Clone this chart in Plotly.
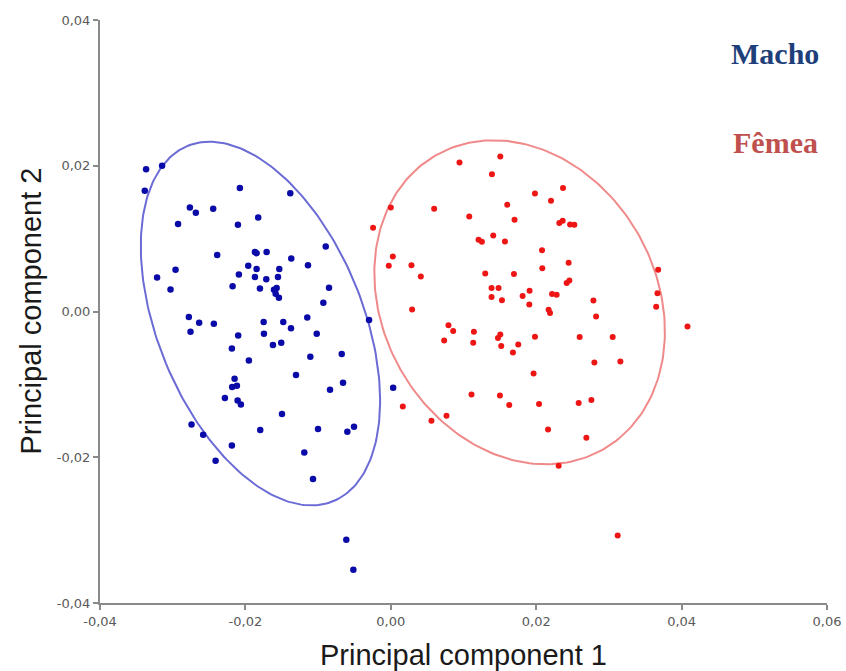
import numpy as np
import plotly.graph_objects as go

# ---- data (PC1, PC2) ----
macho_pc1 = [-0.03366, -0.03146, -0.03384, -0.02076, -0.01383, -0.02764, -0.02682, -0.02443, -0.02926, -0.02103,
             -0.01824, -0.00895, -0.02388, -0.01869, -0.01846, -0.01708, -0.01369, -0.01139, -0.01961, -0.01846,
             -0.01534, -0.02961, -0.03215, -0.02090, -0.01869, -0.01713, -0.01552, -0.00850, -0.03030, -0.02176,
             -0.01800, -0.01607, -0.01570, -0.01584, -0.01539, -0.00928, -0.00299, -0.02778, -0.02636, -0.02434,
             -0.01749, -0.01479, -0.01373, -0.01149, -0.02755, -0.02099, -0.01745, -0.01019, -0.02186, -0.01621,
             -0.01507, -0.01107, -0.00675, -0.01952, -0.01304, -0.02149, -0.02182, -0.02117, -0.02282, -0.02107,
             -0.02062, -0.00836, -0.00657, 0.00032, -0.01497, -0.02741, -0.02581, -0.01796, -0.01001, -0.00598,
             -0.00506, -0.02186, -0.01190, -0.02410, -0.01070, -0.00612, -0.00515]
macho_pc2 = [0.01953, 0.01999, 0.01656, 0.01693, 0.01624, 0.01427, 0.01354, 0.01409, 0.01199, 0.01189,
             0.01289, 0.00892, 0.00774, 0.00815, 0.00801, 0.00815, 0.00727, 0.00636, 0.00627, 0.00582,
             0.00582, 0.00572, 0.00466, 0.00508, 0.00472, 0.00444, 0.00472, 0.00325, 0.00302, 0.00348,
             0.00316, 0.00298, 0.00321, 0.00243, 0.00188, 0.00119, -0.00118, -0.00077, -0.00155, -0.00169,
             -0.00145, -0.00145, -0.00230, -0.00082, -0.00278, -0.00329, -0.00306, -0.00306, -0.00508, -0.00461,
             -0.00429, -0.00621, -0.00584, -0.00672, -0.00872, -0.00923, -0.01037, -0.01019, -0.01188, -0.01221,
             -0.01276, -0.01074, -0.00978, -0.01047, -0.01407, -0.01550, -0.01691, -0.01627, -0.01613, -0.01650,
             -0.01582, -0.01838, -0.01934, -0.02048, -0.02299, -0.03132, -0.03543]

femea_pc1 = [0.00945, 0.01506, 0.01391, 0.00000, 0.00596, -0.00244, 0.01079, 0.01602, 0.01702, 0.01983,
             0.02204, 0.02369, 0.02318, 0.02364, 0.02466, 0.02525, 0.01409, 0.01207, 0.01253, 0.01570,
             0.02080, 0.00028, -0.00028, 0.00284, 0.00413, 0.01299, 0.01694, 0.02084, 0.02446, 0.02419,
             0.02456, 0.01386, 0.01482, 0.01386, 0.01529, 0.01813, 0.01909, 0.01905, 0.02218, 0.02281,
             0.02171, 0.02190, 0.00293, 0.00793, 0.00858, 0.01143, 0.01506, 0.01983, 0.02787, 0.02824,
             0.03678, 0.03668, 0.03650, 0.04081, 0.02598, 0.03052, 0.01474, 0.00734, 0.01134, 0.01519,
             0.01753, 0.01680, 0.02800, 0.03158, 0.01964, 0.01110, 0.01501, 0.01629, 0.02039, 0.02584,
             0.02759, 0.00165, 0.00559, 0.00766, 0.02163, 0.02690, 0.02309, 0.03121]
femea_pc2 = [0.02044, 0.02126, 0.01885, 0.01427, 0.01409, 0.01148, 0.01303, 0.01464, 0.01258, 0.01619,
             0.01519, 0.01693, 0.01213, 0.01244, 0.01193, 0.01189, 0.01043, 0.00984, 0.00956, 0.00960,
             0.00842, 0.00754, 0.00627, 0.00636, 0.00480, 0.00521, 0.00513, 0.00595, 0.00668, 0.00390,
             0.00425, 0.00321, 0.00321, 0.00198, 0.00156, 0.00211, 0.00284, 0.00096, 0.00239, 0.00229,
             0.00023, -0.00022, 0.00027, -0.00187, -0.00269, -0.00278, -0.00316, -0.00347, 0.00151, -0.00069,
             0.00572, 0.00252, 0.00064, -0.00206, -0.00351, -0.00351, -0.00365, -0.00398, -0.00429, -0.00475,
             -0.00453, -0.00562, -0.00700, -0.00686, -0.00850, -0.01139, -0.01152, -0.01284, -0.01270, -0.01257,
             -0.01215, -0.01303, -0.01499, -0.01431, -0.01619, -0.01733, -0.02117, -0.03073]

tick_vals = [-0.04, -0.02, 0.0, 0.02, 0.04, 0.06]
tick_text = ["-0,04", "-0,02", "0,00", "0,02", "0,04", "0,06"]
ytick_vals = [-0.04, -0.02, 0.0, 0.02, 0.04]
ytick_text = ["-0,04", "-0,02", "0,00", "0,02", "0,04"]

ellipse_scale = 2.15  # spread (in std. deviations) of the group ellipses


def conf_ellipse(x, y, k=ellipse_scale, n=240):
    x = np.asarray(x); y = np.asarray(y)
    cov = np.cov(x, y)
    vals, vecs = np.linalg.eigh(cov)
    t = np.linspace(0, 2 * np.pi, n)
    circ = np.vstack([np.cos(t), np.sin(t)]) * (k * np.sqrt(vals))[:, None]
    pts = vecs @ circ
    return pts[0] + x.mean(), pts[1] + y.mean()


fig = go.Figure()

ex, ey = conf_ellipse(macho_pc1, macho_pc2)
fig.add_trace(go.Scatter(x=ex, y=ey, mode="lines", line=dict(color="#6b6bd6", width=2),
                         hoverinfo="skip", showlegend=False))
ex, ey = conf_ellipse(femea_pc1, femea_pc2)
fig.add_trace(go.Scatter(x=ex, y=ey, mode="lines", line=dict(color="#f08a8a", width=2),
                         hoverinfo="skip", showlegend=False))

fig.add_trace(go.Scatter(x=macho_pc1, y=macho_pc2, mode="markers", name="Macho",
                         marker=dict(color="#0a0aa8", size=6.5), showlegend=False))
fig.add_trace(go.Scatter(x=femea_pc1, y=femea_pc2, mode="markers", name="Fêmea",
                         marker=dict(color="#ee1515", size=6), showlegend=False))

axis_common = dict(showgrid=False, zeroline=False, showline=True, linecolor="#8a8a8a", linewidth=2,
                   ticks="outside", ticklen=5, tickwidth=1.5, tickcolor="#8a8a8a", automargin=False,
                   tickfont=dict(family="DejaVu Sans", size=13, color="#5a5a5a"))

fig.update_layout(
    width=846, height=671,
    margin=dict(l=100, r=19, t=20, b=68, autoexpand=False),
    paper_bgcolor="white", plot_bgcolor="white",
    xaxis=dict(range=[-0.04, 0.06], tickvals=tick_vals, ticktext=tick_text, **axis_common),
    yaxis=dict(range=[-0.04, 0.04], tickvals=ytick_vals, ticktext=ytick_text, **axis_common),
    annotations=[
        dict(text="Principal component 1", xref="paper", yref="paper", x=0.5, y=0,
             xanchor="center", yanchor="middle", yshift=-52, showarrow=False,
             font=dict(family="Liberation Sans", size=29, color="#1a1a1a")),
        dict(text="Principal component 2", xref="paper", yref="paper", x=0, y=0.5,
             xanchor="center", yanchor="middle", xshift=-70, textangle=-90, showarrow=False,
             font=dict(family="Liberation Sans", size=29, color="#1a1a1a")),
        dict(text="<b>Macho</b>", xref="paper", yref="paper", x=0.9285, y=0.943,
             xanchor="center", yanchor="middle", showarrow=False,
             font=dict(family="Liberation Serif", size=30, color="#1f3f7a")),
        dict(text="<b>Fêmea</b>", xref="paper", yref="paper", x=0.9285, y=0.79,
             xanchor="center", yanchor="middle", showarrow=False,
             font=dict(family="Liberation Serif", size=30, color="#c0504d")),
    ],
)

fig.write_html("out.html", config={"displayModeBar": False},
               post_script="document.body.style.margin='0';document.body.style.overflow='hidden';")
